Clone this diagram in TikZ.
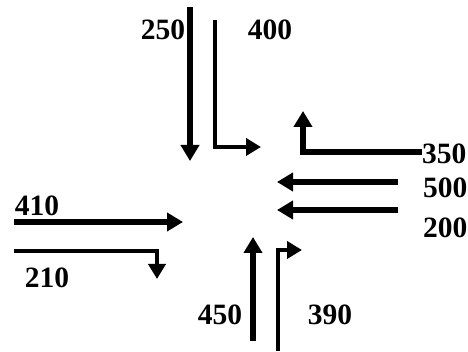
\documentclass[tikz,border=0pt]{standalone}
\usepackage{fontspec}
\setmainfont{Liberation Serif}
\usetikzlibrary{arrows.meta}
\begin{document}
\begin{tikzpicture}[x=1pt,y=-1pt,
  lane/.style={line width=5.5pt, line join=miter,
    -{Triangle[width=18pt,length=16pt]}},
  turnlane/.style={line width=4.4pt, line join=miter,
    -{Triangle[width=17pt,length=15pt]}},
  flow/.style={font=\fontsize{29.5}{30}\selectfont\bfseries, inner sep=0pt}]
\useasboundingbox (0,0) rectangle (468,352);
\fill[white] (0,0) rectangle (468,352);

% north approach
\coordinate (n1s) at (190,7);   \coordinate (n1e) at (190,161);
\coordinate (n2s) at (215,20);  \coordinate (n2c) at (215,147);
\coordinate (n2e) at (261,147);
\draw[lane] (n1s) -- (n1e);
\draw[turnlane] (n2s) -- (n2c) -- (n2e);
\node[flow] (q250) at (163,30) {250};
\node[flow] (q400) at (270,30) {400};

% east approach
\coordinate (e1s) at (422,152); \coordinate (e1c) at (303,152);
\coordinate (e1e) at (303,111);
\coordinate (e2s) at (398,182); \coordinate (e2e) at (277,182);
\coordinate (e3s) at (398,210); \coordinate (e3e) at (277,210);
\draw[lane] (e1s) -- (e1c) -- (e1e);
\draw[lane] (e2s) -- (e2e);
\draw[lane] (e3s) -- (e3e);
\node[flow, anchor=west] (q350) at (422,154) {350};
\node[flow, anchor=west] (q500) at (423,188) {500};
\node[flow, anchor=west] (q200) at (423,228) {200};

% west approach
\coordinate (w1s) at (14,222);  \coordinate (w1e) at (183,222);
\coordinate (w2s) at (14,251);  \coordinate (w2c) at (157,251);
\coordinate (w2e) at (157,279);
\draw[lane] (w1s) -- (w1e);
\draw[turnlane] (w2s) -- (w2c) -- (w2e);
\node[flow] (q410) at (37,206) {410};
\node[flow] (q210) at (47,278) {210};

% south approach
\coordinate (s1s) at (253,341); \coordinate (s1e) at (253,237);
\coordinate (s2s) at (278,351); \coordinate (s2c) at (278,250);
\coordinate (s2e) at (302,250);
\draw[lane] (s1s) -- (s1e);
\draw[turnlane] (s2s) -- (s2c) -- (s2e);
\node[flow] (q450) at (220,315) {450};
\node[flow] (q390) at (330,315) {390};
\end{tikzpicture}
\end{document}
